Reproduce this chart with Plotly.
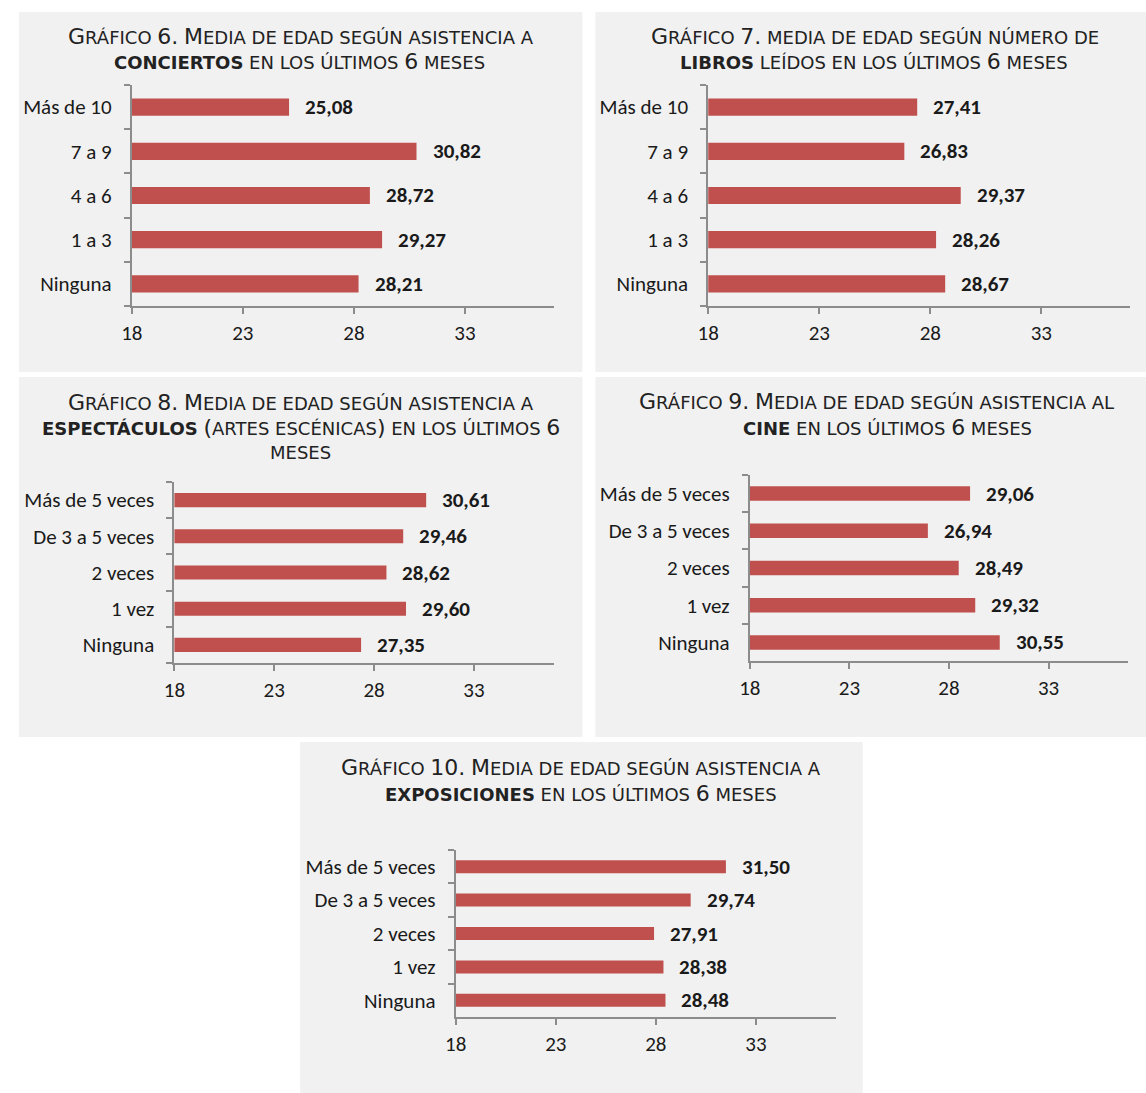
import plotly.graph_objects as go

W, H = 1146, 1093

# ── Colors ────────────────────────────────────────────────
BAR_RED  = "#C0504D"
PANEL_BG = "#F1F1F1"
AXIS_CLR = "#8C8C8C"
TEXT_CLR = "#1A1A1A"

TITLE_FONT = "DejaVu Sans, Verdana, sans-serif"
LABEL_FONT = "Carlito, Calibri, Lato, sans-serif"

# ── Data ──────────────────────────────────────────────────
libros_cats = ["Ninguna", "1 a 3", "4 a 6", "7 a 9", "Más de 10"]
veces_cats  = ["Ninguna", "1 vez", "2 veces", "De 3 a 5 veces", "Más de 5 veces"]

g6_vals  = [28.21, 29.27, 28.72, 30.82, 25.08]   # conciertos
g7_vals  = [28.67, 28.26, 29.37, 26.83, 27.41]   # libros
g8_vals  = [27.35, 29.60, 28.62, 29.46, 30.61]   # espectáculos
g9_vals  = [30.55, 29.32, 28.49, 26.94, 29.06]   # cine
g10_vals = [28.48, 28.38, 27.91, 29.74, 31.50]   # exposiciones

x_ticks = [18, 23, 28, 33]
x_range = [18, 37]

# titles: *word* = bold
g6_title  = ["Gráfico 6. Media de edad según asistencia a",
             "*conciertos* en los últimos 6 meses"]
g7_title  = ["Gráfico 7. media de edad según número de",
             "*libros* leídos en los últimos 6 meses"]
g8_title  = ["Gráfico 8. Media de edad según asistencia a",
             "*espectáculos* (artes escénicas) en los últimos 6",
             "meses"]
g9_title  = ["Gráfico 9. Media de edad según asistencia al",
             "*cine* en los últimos 6 meses"]
g10_title = ["Gráfico 10. Media de edad según asistencia a",
             "*exposiciones* en los últimos 6 meses"]

# ── Layout boxes (pixels) ─────────────────────────────────
# bg = panel rectangle, plot = x0, x1, ytop, ybottom, tpos = (xcenter, ycenter) per title line
PANELS = [
    dict(cats=libros_cats, vals=g6_vals, title=g6_title,
         bg=(8, 577, 12, 372), plot=(122, 548, 85, 306),
         tpos=[(292.5, 36), (291.5, 62)]),
    dict(cats=libros_cats, vals=g7_vals, title=g7_title,
         bg=(590, 1146, 12, 372), plot=(704, 1130, 85, 306),
         tpos=[(872, 36), (871.5, 62)]),
    dict(cats=veces_cats, vals=g8_vals, title=g8_title,
         bg=(8, 577, 377, 737), plot=(165, 548, 482, 663),
         tpos=[(292.5, 402), (292.5, 427), (292.5, 453)]),
    dict(cats=veces_cats, vals=g9_vals, title=g9_title,
         bg=(590, 1146, 377, 737), plot=(746, 1128, 475, 661),
         tpos=[(874, 401), (885, 427)]),
    dict(cats=veces_cats, vals=g10_vals, title=g10_title,
         bg=(292, 860, 742, 1093), plot=(449, 833, 850, 1017),
         tpos=[(576, 767), (575.5, 793)]),
]

BIG, SMALL = 22, 18
LABEL_SIZE = 21


def px_x(v):
    return v / W


def px_y(v):
    return 1 - v / H


def small_caps(line):
    """Fake small caps: lowercase letters become smaller uppercase letters."""
    out = []
    bold = False
    run, run_size = "", None

    def flush():
        if run:
            out.append(f'<span style="font-size:{run_size}px">{run}</span>')

    for ch in line:
        if ch == "*":
            flush()
            run, run_size = "", None
            out.append("</b>" if bold else "<b>")
            bold = not bold
            continue
        size = SMALL if (ch.islower() or ch == " ") else BIG
        c = ch.upper()
        if size != run_size:
            flush()
            run, run_size = c, size
        else:
            run += c
    flush()
    return "".join(out)


def fmt(v):
    return f"{v:.2f}".replace(".", ",")


fig = go.Figure()
shapes, annotations = [], []
layout_axes = {}

for i, p in enumerate(PANELS, start=1):
    xa = "x" if i == 1 else f"x{i}"
    ya = "y" if i == 1 else f"y{i}"

    fig.add_trace(go.Bar(
        x=p["vals"], y=p["cats"], orientation="h",
        width=0.39,
        marker=dict(color=BAR_RED, line=dict(width=0)),
        xaxis=xa, yaxis=ya, showlegend=False, hoverinfo="x+y",
    ))

    x0, x1, yt, yb = p["plot"]
    layout_axes["xaxis" if i == 1 else f"xaxis{i}"] = dict(
        domain=[px_x(x0), px_x(x1)], anchor=ya,
        range=x_range, tickvals=x_ticks,
        showgrid=False, zeroline=False,
        showline=True, linecolor=AXIS_CLR, linewidth=2,
        ticks="outside", ticklen=6, tickwidth=2, tickcolor=AXIS_CLR,
        ticklabelstandoff=1,
        tickfont=dict(family=LABEL_FONT, size=LABEL_SIZE, color=TEXT_CLR),
    )
    layout_axes["yaxis" if i == 1 else f"yaxis{i}"] = dict(
        domain=[px_y(yb), px_y(yt)], anchor=xa,
        type="category", categoryorder="array", categoryarray=p["cats"],
        showgrid=False, zeroline=False,
        showline=True, linecolor=AXIS_CLR, linewidth=2,
        ticks="outside", ticklen=6, tickwidth=2, tickcolor=AXIS_CLR,
        tickson="boundaries", ticklabelstandoff=14,
        tickfont=dict(family=LABEL_FONT, size=LABEL_SIZE, color=TEXT_CLR),
    )

    # panel background
    bx0, bx1, by0, by1 = p["bg"]
    shapes.append(dict(
        type="rect", xref="paper", yref="paper", layer="below",
        x0=px_x(bx0), x1=px_x(bx1), y0=px_y(by1), y1=px_y(by0),
        fillcolor=PANEL_BG, line=dict(width=0),
    ))

    # data labels
    for c, v in zip(p["cats"], p["vals"]):
        annotations.append(dict(
            x=v, y=c, xref=xa, yref=ya,
            text=f"<b>{fmt(v)}</b>", showarrow=False,
            xanchor="left", yanchor="middle", xshift=14,
            font=dict(family=LABEL_FONT, size=LABEL_SIZE, color=TEXT_CLR),
        ))

    # title lines
    for line, (cx, cy) in zip(p["title"], p["tpos"]):
        annotations.append(dict(
            x=px_x(cx), y=px_y(cy), xref="paper", yref="paper",
            text=small_caps(line), showarrow=False,
            xanchor="center", yanchor="middle",
            font=dict(family=TITLE_FONT, size=BIG, color="#222222"),
        ))

fig.update_layout(
    width=W, height=H,
    margin=dict(l=0, r=0, t=0, b=0),
    paper_bgcolor="white",
    plot_bgcolor="rgba(0,0,0,0)",
    shapes=shapes,
    annotations=annotations,
    **layout_axes,
)

fig.write_html(
    "out.html",
    config={"displayModeBar": False},
    post_script="document.body.style.margin='0';document.body.style.overflow='hidden';",
)
